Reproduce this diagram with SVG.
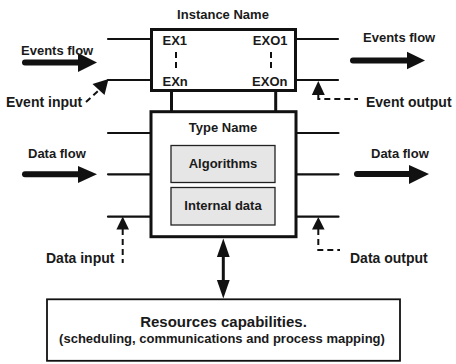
<svg xmlns="http://www.w3.org/2000/svg" width="456" height="364" viewBox="0 0 456 364">
<style>
text{font-family:"Liberation Sans",Arial,sans-serif;font-weight:bold;font-size:13px;fill:#1a1a1a}
.box{fill:#fff;stroke:#111;stroke-width:3}
.inner{fill:#e6e6e6;stroke:#222;stroke-width:1.3}
.ln{stroke:#111;stroke-width:2.2;fill:none;stroke-linecap:round}
.thick{stroke:#111;stroke-width:6;fill:none;stroke-linecap:round}
.dash{stroke:#111;stroke-width:2;fill:none;stroke-dasharray:6 4}
.head{fill:#111}
.mid{text-anchor:middle}
.end{text-anchor:end}
</style>
<g id="connectors">
  <!-- event lines -->
  <line class="ln" x1="108" y1="39" x2="151" y2="39"/>
  <line class="ln" x1="108" y1="80" x2="151" y2="80"/>
  <line class="ln" x1="296" y1="39" x2="338" y2="39"/>
  <line class="ln" x1="296" y1="80" x2="338" y2="80"/>
  <!-- links between boxes -->
  <line stroke="#111" stroke-width="3" x1="171.5" y1="90" x2="171.5" y2="112"/>
  <line stroke="#111" stroke-width="3" x1="275.7" y1="90" x2="275.7" y2="112"/>
  <!-- data lines -->
  <line class="ln" x1="108" y1="133" x2="151" y2="133" stroke-linecap="butt"/>
  <line class="ln" x1="108" y1="174.3" x2="151" y2="174.3" stroke-linecap="butt"/>
  <line class="ln" x1="108" y1="216.7" x2="151" y2="216.7" stroke-linecap="butt" stroke-width="2.8"/>
  <line class="ln" x1="296" y1="133" x2="338.5" y2="133" stroke-linecap="butt"/>
  <line class="ln" x1="296" y1="174.3" x2="338.5" y2="174.3" stroke-linecap="butt"/>
  <line class="ln" x1="296" y1="216.7" x2="338.5" y2="216.7" stroke-linecap="butt" stroke-width="2.8"/>
  <!-- flow arrows -->
  <line class="thick" x1="25" y1="62.5" x2="80" y2="62.5"/>
  <polygon class="head" points="78,53 97,62.5 78,72"/>
  <line class="thick" x1="353" y1="60.5" x2="409" y2="60.5"/>
  <polygon class="head" points="407,51.7 425,60.5 407,69.3"/>
  <line class="thick" x1="25" y1="174.3" x2="80" y2="174.3"/>
  <polygon class="head" points="78,166 97,174.3 78,183"/>
  <line class="thick" x1="357" y1="174" x2="411" y2="174"/>
  <polygon class="head" points="409,165 429,174 409,184"/>
  <!-- event input -->
  <line class="dash" x1="86" y1="102" x2="99" y2="90" stroke-dasharray="5 3"/>
  <polygon class="head" points="108.5,79 104.5,95 92.5,84"/>
  <!-- event output -->
  <polygon class="head" points="318.3,81 311.8,95 324.8,95"/>
  <polyline class="dash" points="318.3,95 318.3,99 358,99" stroke-dasharray="2 5 7 4"/>
  <!-- data input -->
  <polygon class="head" points="122.7,216.5 116.4,229.5 129,229.5"/>
  <line class="dash" x1="122.7" y1="229" x2="122.7" y2="263" stroke-dasharray="13 4 6 4"/>
  <!-- data output -->
  <polygon class="head" points="318.3,217 312,229.5 324.6,229.5"/>
  <polyline class="dash" points="318.3,229 318.3,250 340,250" stroke-dasharray="10 4 6 4"/>
  <!-- resources double arrow -->
  <line stroke="#111" stroke-width="3" x1="223.3" y1="252" x2="223.3" y2="285"/>
  <polygon class="head" points="223.3,238.5 216.9,257 229.7,257"/>
  <polygon class="head" points="223.3,298.5 216.9,280 229.7,280"/>
</g>
<g id="instance">
  <rect class="box" x="151.5" y="29.5" width="144" height="61"/>
  <text class="mid" x="223" y="18.5">Instance Name</text>
  <text x="162.5" y="44.5">EX1</text>
  <text x="162.5" y="85.5">EXn</text>
  <text class="end" x="287.5" y="44.5">EXO1</text>
  <text class="end" x="287.5" y="85.5">EXOn</text>
  <line class="dash" x1="176" y1="52" x2="176" y2="70" stroke-width="1.5" stroke-dasharray="4 2.5"/>
  <line class="dash" x1="271" y1="52" x2="271" y2="70" stroke-width="1.5" stroke-dasharray="4 2.5"/>
</g>
<g id="type">
  <rect class="box" x="151" y="111.7" width="145" height="125"/>
  <text class="mid" x="223" y="132">Type Name</text>
</g>
<g id="algorithms">
  <rect class="inner" x="171" y="145.5" width="104" height="37"/>
  <text class="mid" x="223" y="168">Algorithms</text>
</g>
<g id="internal-data">
  <rect class="inner" x="171" y="187.5" width="104" height="37.5"/>
  <text class="mid" x="223" y="210">Internal data</text>
</g>
<g id="resources">
  <rect x="47" y="299.3" width="353" height="61.5" fill="#fff" stroke="#111" stroke-width="1.8"/>
  <text class="mid" x="223.5" y="327" style="font-size:15px">Resources capabilities.</text>
  <text class="mid" x="222" y="342.5" style="font-size:13px">(scheduling, communications and process mapping)</text>
</g>
<g id="labels">
  <text x="21" y="54.5">Events flow</text>
  <text x="363" y="41.5">Events flow</text>
  <text x="6" y="106.7" style="font-size:14px">Event input</text>
  <text x="366" y="107" style="font-size:14px">Event output</text>
  <text x="28" y="158">Data flow</text>
  <text x="371" y="158">Data flow</text>
  <text x="46" y="263" style="font-size:14px">Data input</text>
  <text x="350" y="263" style="font-size:14px">Data output</text>
</g>
</svg>
